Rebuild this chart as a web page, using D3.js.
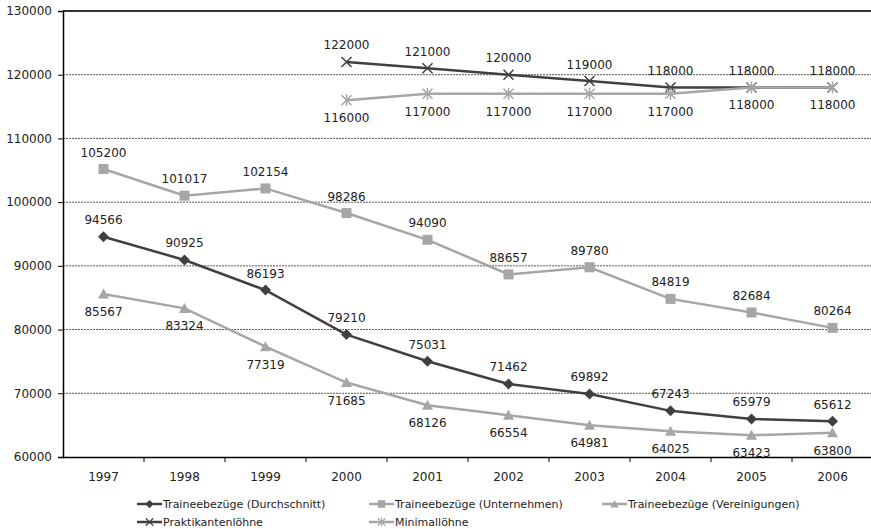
<!DOCTYPE html>
<html><head><meta charset="utf-8">
<script src="https://cdn.jsdelivr.net/npm/d3@7"></script>
<style>body{margin:0;background:#fff}svg{display:block;font-family:Verdana,"DejaVu Sans",sans-serif}</style>
</head><body><svg id="c" width="871" height="529"></svg>
<script>
const years = ["1997","1998","1999","2000","2001","2002","2003","2004","2005","2006"];
const yTicks = [60000,70000,80000,90000,100000,110000,120000,130000];
const durchschnitt = [94566,90925,86193,79210,75031,71462,69892,67243,65979,65612];
const unternehmen = [105200,101017,102154,98286,94090,88657,89780,84819,82684,80264];
const vereinigungen = [85567,83324,77319,71685,68126,66554,64981,64025,63423,63800];
const praktikanten = [null,null,null,122000,121000,120000,119000,118000,118000,118000];
const minimal = [null,null,null,116000,117000,117000,117000,117000,118000,118000];
const seriesNames = ["Traineebezüge (Durchschnitt)","Traineebezüge (Unternehmen)","Traineebezüge (Vereinigungen)","Praktikantenlöhne","Minimallöhne"];

(function(){
const series = [
  {name:seriesNames[0], values:durchschnitt, color:"#404040", marker:"diamond", label:"above"},
  {name:seriesNames[1], values:unternehmen, color:"#a6a6a6", marker:"square", label:"above"},
  {name:seriesNames[2], values:vereinigungen, color:"#a6a6a6", marker:"triangle", label:"below"},
  {name:seriesNames[3], values:praktikanten, color:"#404040", marker:"x", label:"above"},
  {name:seriesNames[4], values:minimal, color:"#a6a6a6", marker:"star", label:"below"}
];

const svg = d3.select("#c");
const pLeft = 63, pRight = 873, pTop = 11, pBottom = 457;
const x = d3.scaleBand().domain(years).range([pLeft,pRight]);
const y = d3.scaleLinear().domain([60000,130000]).range([pBottom,pTop]);
const cx = d => x(d) + x.bandwidth()/2;
const FONT = "Verdana,'DejaVu Sans',sans-serif";

svg.append("g").selectAll("line").data(yTicks.filter(t=>t>60000)).join("line")
  .attr("x1",pLeft).attr("x2",871).attr("y1",d=>y(d)).attr("y2",d=>y(d))
  .attr("stroke",d=>d===130000?"#333":"#555")
  .attr("stroke-width",d=>d===130000?2:1)
  .attr("stroke-dasharray",d=>d===130000?null:"2,1");

const ya = svg.append("g").attr("transform",`translate(${pLeft},0)`)
  .call(d3.axisLeft(y).tickValues(yTicks).tickFormat(d3.format("d")).tickSize(5).tickPadding(6));
ya.select(".domain").attr("stroke","#000").attr("stroke-width",1.5);
ya.selectAll(".tick line").attr("stroke","#000");
ya.selectAll("text").attr("font-size",12).attr("fill","#222").style("font-family",FONT);

const xa = svg.append("g").attr("transform",`translate(0,${pBottom})`)
  .call(d3.axisBottom(x).tickSize(0).tickPadding(15));
xa.select(".domain").attr("stroke","#000").attr("stroke-width",1.5);
xa.selectAll("text").attr("font-size",12).attr("fill","#222").style("font-family",FONT);
svg.append("g").selectAll("line").data(years.slice(1)).join("line")
  .attr("x1",d=>x(d)).attr("x2",d=>x(d)).attr("y1",pBottom).attr("y2",pBottom+5).attr("stroke","#000");

function markerPath(type){
  switch(type){
    case "diamond": return "M0,-5.5L5.5,0L0,5.5L-5.5,0Z";
    case "square": return "M-5,-5H5V5H-5Z";
    case "triangle": return "M0,-5.5L5.5,4.5H-5.5Z";
    case "x": return "M-5,-5L5,5M-5,5L5,-5";
    case "star": return "M-5,-5L5,5M-5,5L5,-5M0,-6V6";
  }
}

const line = d3.line().defined(d=>d.v!==null).x(d=>cx(d.year)).y(d=>y(d.v));

series.forEach(s=>{
  const pts = years.map((yr,i)=>({year:yr,v:s.values[i]}));
  const g = svg.append("g");
  g.append("path").datum(pts).attr("d",line).attr("fill","none").attr("stroke",s.color).attr("stroke-width",2.5);
  const valid = pts.filter(p=>p.v!==null);
  const open = s.marker==="x"||s.marker==="star";
  g.selectAll("path.m").data(valid).join("path").attr("class","m")
    .attr("transform",p=>`translate(${cx(p.year)},${y(p.v)})`)
    .attr("d",markerPath(s.marker))
    .attr("fill",open?"none":s.color)
    .attr("stroke",s.color).attr("stroke-width",open?1.5:0);
  g.selectAll("text").data(valid).join("text")
    .attr("x",p=>cx(p.year))
    .attr("y",p=>y(p.v)+(s.label==="above"?-12.5:22))
    .attr("text-anchor","middle").attr("font-size",12).attr("fill","#222")
    .text(p=>p.v);
});

const legendPos = [[137,504],[369,504],[602,504],[137,522],[369,522]];
series.forEach((s,i)=>{
  const [lx,ly] = legendPos[i];
  const g = svg.append("g").attr("transform",`translate(${lx},${ly})`);
  g.append("line").attr("x1",0).attr("x2",25).attr("y1",0).attr("y2",0).attr("stroke",s.color).attr("stroke-width",2.5);
  const open = s.marker==="x"||s.marker==="star";
  g.append("path").attr("transform","translate(12.5,0) scale(0.75)").attr("d",markerPath(s.marker))
    .attr("fill",open?"none":s.color).attr("stroke",s.color).attr("stroke-width",open?1.5:0);
  g.append("text").attr("x",26).attr("y",4).attr("font-size",11).attr("fill","#222").text(s.name);
});
})();
</script></body></html>
